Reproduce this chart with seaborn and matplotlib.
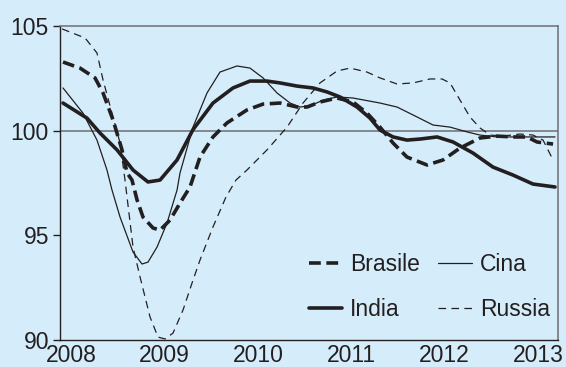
import matplotlib
matplotlib.use("Agg")
import matplotlib.pyplot as plt
import seaborn as sns
import pandas as pd

# Index values (read per series as year / level pairs)
brasile_x = [2007.914, 2008.096, 2008.257, 2008.343, 2008.450, 2008.546, 2008.600, 2008.653,
             2008.707, 2008.771, 2008.878, 2008.953, 2009.060, 2009.167, 2009.274, 2009.381,
             2009.520, 2009.670, 2009.884, 2010.056, 2010.238, 2010.420, 2010.527, 2010.666,
             2010.848, 2011.019, 2011.169, 2011.308, 2011.448, 2011.597, 2011.812, 2011.983,
             2012.165, 2012.379, 2012.561, 2012.732, 2012.882, 2012.989, 2013.161]
brasile_y = [103.28, 102.99, 102.52, 101.80, 100.51, 99.08, 97.98, 97.64,
             96.69, 95.87, 95.35, 95.25, 95.73, 96.54, 97.31, 98.74,
             99.70, 100.37, 100.99, 101.27, 101.32, 101.13, 101.13, 101.37,
             101.56, 101.37, 100.84, 100.17, 99.41, 98.74, 98.36, 98.60,
             99.17, 99.65, 99.74, 99.70, 99.70, 99.46, 99.36]

cina_x = [2007.914, 2008.128, 2008.278, 2008.385, 2008.439, 2008.525, 2008.664, 2008.760,
          2008.824, 2008.921, 2009.028, 2009.135, 2009.167, 2009.306, 2009.456, 2009.595,
          2009.777, 2009.916, 2010.056, 2010.206, 2010.345, 2010.452, 2010.559, 2010.698,
          2010.848, 2011.019, 2011.308, 2011.490, 2011.662, 2011.876, 2012.058, 2012.240,
          2012.379, 2012.561, 2012.732, 2012.914, 2013.182]
cina_y = [102.04, 100.84, 99.55, 98.12, 97.16, 95.87, 94.20, 93.63,
          93.72, 94.44, 95.59, 97.16, 97.98, 100.17, 101.80, 102.80,
          103.09, 102.99, 102.52, 101.80, 101.32, 101.13, 101.18, 101.46,
          101.61, 101.56, 101.32, 101.13, 100.75, 100.27, 100.17, 99.94,
          99.79, 99.70, 99.70, 99.70, 99.70]

india_x = [2007.914, 2008.171, 2008.310, 2008.493, 2008.664, 2008.824, 2008.953, 2009.135,
           2009.306, 2009.520, 2009.734, 2009.916, 2010.098, 2010.238, 2010.420, 2010.591,
           2010.741, 2010.880, 2011.062, 2011.201, 2011.308, 2011.448, 2011.597, 2011.737,
           2011.919, 2012.090, 2012.304, 2012.518, 2012.732, 2012.946, 2013.182]
india_y = [101.32, 100.60, 99.89, 99.08, 98.12, 97.55, 97.64, 98.60,
           100.05, 101.32, 102.04, 102.37, 102.37, 102.28, 102.13, 102.04,
           101.85, 101.61, 101.13, 100.60, 100.03, 99.70, 99.55, 99.60,
           99.70, 99.46, 98.93, 98.26, 97.88, 97.45, 97.31]

russia_x = [2007.904, 2008.150, 2008.278, 2008.343, 2008.450, 2008.525, 2008.578, 2008.664,
            2008.739, 2008.846, 2008.931, 2009.006, 2009.092, 2009.199, 2009.306, 2009.381,
            2009.520, 2009.659, 2009.766, 2009.884, 2010.098, 2010.313, 2010.484, 2010.666,
            2010.848, 2010.987, 2011.169, 2011.308, 2011.490, 2011.662, 2011.844, 2011.972,
            2012.058, 2012.165, 2012.272, 2012.379, 2012.486, 2012.625, 2012.807, 2012.946,
            2013.054, 2013.161]
russia_y = [104.86, 104.43, 103.71, 102.42, 100.65, 99.41, 97.64, 94.44,
            93.01, 91.10, 90.14, 90.05, 90.33, 91.43, 92.86, 93.82,
            95.40, 96.83, 97.64, 98.12, 99.08, 100.17, 101.32, 102.28,
            102.85, 102.99, 102.80, 102.52, 102.23, 102.28, 102.47, 102.47,
            102.28, 101.46, 100.65, 100.13, 99.79, 99.74, 99.84, 99.79,
            99.55, 98.60]

year_ticks = [2008, 2009, 2010, 2011, 2012, 2013]
value_ticks = [90, 95, 100, 105]

series = {
    "Brasile": (brasile_x, brasile_y),
    "India": (india_x, india_y),
    "Cina": (cina_x, cina_y),
    "Russia": (russia_x, russia_y),
}
df = pd.concat(
    [pd.DataFrame({"anno": x, "valore": y, "paese": name}) for name, (x, y) in series.items()],
    ignore_index=True,
)

bg = "#D5EDFA"
ink = "#231F20"
grey = "#6D6E71"

sns.set_style("white")
plt.rcParams["font.family"] = ["Liberation Sans", "DejaVu Sans"]
plt.rcParams["lines.scale_dashes"] = False

fig = plt.figure(figsize=(5.66, 3.67), dpi=100, facecolor=bg)
ax = fig.add_axes([60 / 566, 1 - 340 / 367, 498 / 566, 314 / 367])
ax.set_facecolor(bg)

styles = {
    "Brasile": dict(lw=2.6, linestyle=(0, (8.5, 4.0))),
    "India": dict(lw=2.6, linestyle="-"),
    "Cina": dict(lw=0.9, linestyle="-"),
    "Russia": dict(lw=0.9, linestyle=(0, (5.5, 3.8))),
}

ax.axhline(100, color=grey, lw=1.1, zorder=1)

for name in series:
    sub = df[df["paese"] == name]
    sns.lineplot(data=sub, x="anno", y="valore", ax=ax, color=ink, label=name,
                 estimator=None, sort=True, zorder=3, **styles[name])

ax.set_xlim(2007.882, 2013.214)
ax.set_ylim(90, 105)
ax.set_xticks(year_ticks)
ax.set_xticklabels([str(t) for t in year_ticks])
ax.set_yticks(value_ticks)
ax.set_yticklabels([str(t) for t in value_ticks])
ax.set_xlabel("")
ax.set_ylabel("")

ax.tick_params(axis="y", direction="out", length=5, width=1.0, color=ink, pad=3,
               labelsize=16.5, labelcolor=ink, left=True)
ax.tick_params(axis="x", length=0, pad=2.6, labelsize=16.5, labelcolor=ink)

for side in ["left", "bottom"]:
    ax.spines[side].set_color(ink)
    ax.spines[side].set_linewidth(1.0)
for side in ["top", "right"]:
    ax.spines[side].set_color(grey)
    ax.spines[side].set_linewidth(1.1)
    ax.spines[side].set_visible(True)

handles, labels = ax.get_legend_handles_labels()
ax.legend(handles, labels, ncol=2, frameon=False, loc="upper left",
          bbox_to_anchor=(0.50, 0.278), fontsize=16.5, labelcolor=ink,
          handlelength=1.45, handletextpad=0.35, columnspacing=0.8,
          labelspacing=0.97, borderpad=0, borderaxespad=0)

fig.savefig("out.png", dpi=100, facecolor=bg)
